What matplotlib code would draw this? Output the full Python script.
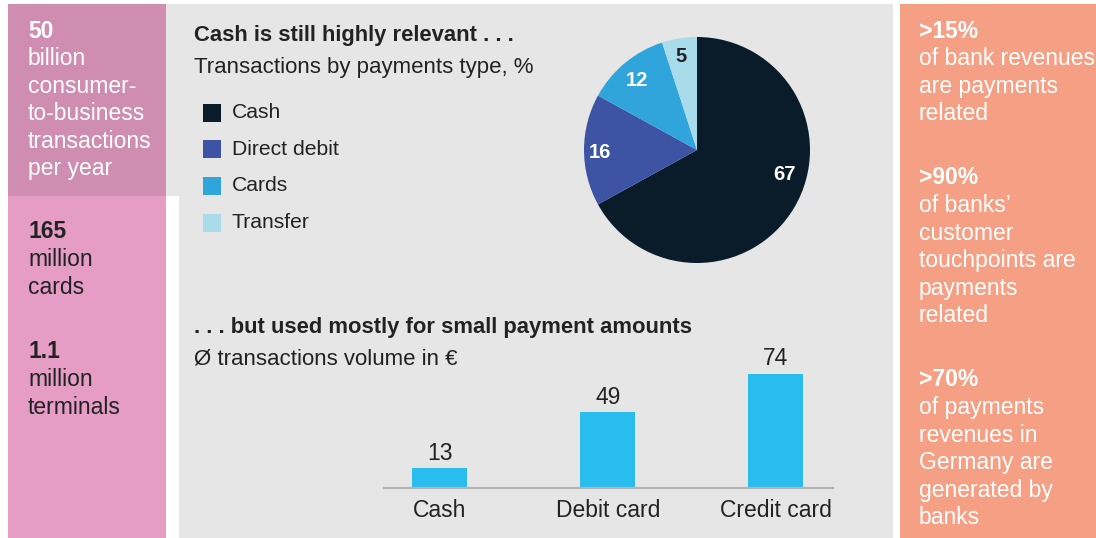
import matplotlib
matplotlib.use("Agg")
import matplotlib.pyplot as plt
from matplotlib.patches import Rectangle

plt.rcParams['font.family'] = ['Liberation Sans', 'DejaVu Sans']

# pie: transactions by payment type, %
pie_labels = ["Cash", "Direct debit", "Cards", "Transfer"]
pie_values = [67, 16, 12, 5]
pie_colors = ["#0a1b2a", "#3d54a4", "#2fa5dc", "#a9dcea"]

# bars: average transaction volume in EUR
bar_labels = ["Cash", "Debit card", "Credit card"]
bar_values = [13, 49, 74]

left_top = ["50", "billion", "consumer-", "to-business", "transactions", "per year"]
left_mid = ["165", "million", "cards"]
left_bot = ["1.1", "million", "terminals"]
right_blocks = [
    [">15%", "of bank revenues", "are payments", "related"],
    [">90%", "of banks\u2019", "customer", "touchpoints are", "payments", "related"],
    [">70%", "of payments", "revenues in", "Germany are", "generated by", "banks"],
]

W, H = 1096, 538
fig = plt.figure(figsize=(W / 100, H / 100), dpi=100)
fig.patch.set_facecolor("white")

# full-figure canvas in pixel units for the panels and text
bg = fig.add_axes([0, 0, 1, 1])
bg.set_xlim(0, W)
bg.set_ylim(H, 0)
bg.axis("off")

grey = "#e6e6e6"
bg.add_patch(Rectangle((166, 4), 727, 192, color=grey, lw=0))
bg.add_patch(Rectangle((179, 196), 714, 342, color=grey, lw=0))
bg.add_patch(Rectangle((8, 4), 158, 192, color="#cf8db1", lw=0))
bg.add_patch(Rectangle((8, 196), 158, 342, color="#e59dc6", lw=0))
bg.add_patch(Rectangle((900, 4), 196, 534, color="#f5a084", lw=0))

dark = "#222222"
line_h = 27.6
fs = 16.5


def block(x, y, lines, color):
    for i, s in enumerate(lines):
        bg.text(x, y + i * line_h, s, fontsize=fs, color=color,
                fontweight="bold" if i == 0 else "normal", va="center", ha="left")


block(28, 31, left_top, "white")
block(28, 232, left_mid, dark)
block(28, 352, left_bot, dark)
for y0, lines in zip([31, 178, 380], right_blocks):
    block(919, y0, lines, "white")

# titles
bg.text(194, 35, "Cash is still highly relevant . . .", fontsize=15.8, fontweight="bold",
        color=dark, va="center")
bg.text(194, 68, "Transactions by payments type, %", fontsize=16, color=dark, va="center")
bg.text(194, 327, ". . . but used mostly for small payment amounts", fontsize=15.8,
        fontweight="bold", color=dark, va="center")
bg.text(194, 359, "\u00d8 transactions volume in \u20ac", fontsize=16, color=dark, va="center")

# legend
for i, (lab, col) in enumerate(zip(pie_labels, pie_colors)):
    y = 112.5 + i * 36.7
    bg.add_patch(Rectangle((203, y - 9), 18, 18, color=col, lw=0))
    bg.text(232, y, lab, fontsize=15.2, color=dark, va="center")

# pie
cx, cy, r = 697, 150, 113
pax = fig.add_axes([(cx - r) / W, (H - cy - r) / H, 2 * r / W, 2 * r / H])
pax.pie(pie_values, colors=pie_colors, startangle=90, counterclock=False,
        radius=1, wedgeprops=dict(lw=0))
pax.set_xlim(-1, 1)
pax.set_ylim(-1, 1)
pax.set_aspect("auto")
label_pos = [(784, 175), (600, 152), (637, 80), (681, 57)]
label_cols = ["white", "white", "white", dark]
for v, (lx, ly), c in zip(pie_values, label_pos, label_cols):
    pax.text((lx - cx) / r, (cy - ly) / r, str(v), fontsize=14.5, fontweight="bold",
             color=c, ha="center", va="center")

# bar chart
x0, x1, base, top = 384, 833, 488, 360
bax = fig.add_axes([x0 / W, (H - base) / H, (x1 - x0) / W, (base - top) / H])
bax.patch.set_alpha(0)
xs = list(range(len(bar_values)))
bax.bar(xs, bar_values, width=0.327, color="#29bcee")
bax.set_xlim(-0.333, 2.34)
bax.set_ylim(0, 83)
for s in ["top", "right", "left"]:
    bax.spines[s].set_visible(False)
bax.spines["bottom"].set_color("#b4b4b4")
bax.spines["bottom"].set_linewidth(1.6)
bax.set_yticks([])
bax.set_xticks(xs)
bax.set_xticklabels(bar_labels, fontsize=16.5, color=dark)
bax.tick_params(axis="x", length=0, pad=8)
for xi, v in zip(xs, bar_values):
    bax.text(xi, v + 2.2, str(v), fontsize=16.5, color=dark, ha="center", va="bottom")

fig.savefig("out.png", dpi=100)
